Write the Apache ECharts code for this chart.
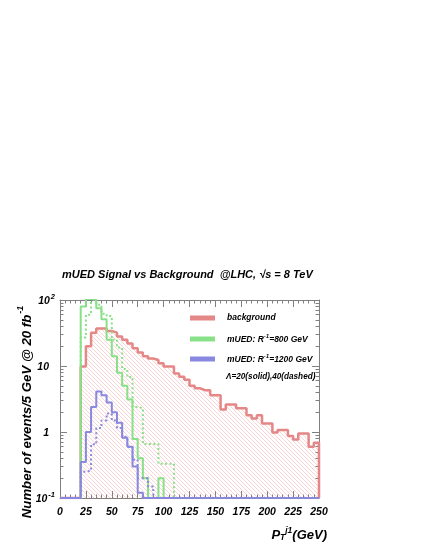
<!DOCTYPE html>
<html>
<head>
<meta charset="utf-8">
<title>mUED Signal vs Background</title>
<script src="https://cdn.jsdelivr.net/npm/echarts@6/dist/echarts.min.js"></script>
<style>
html, body { margin: 0; padding: 0; background: #fff; }
#chart { width: 432px; height: 559px; }
</style>
</head>
<body>
<div id="chart"></div>
<script>
// histogram bins, 5 GeV wide, first listed bin starts at 20 GeV (0 = empty bin)
var binStart = 20;
var binWidth = 5;
var xTicks = [0, 25, 50, 75, 100, 125, 150, 175, 200, 225, 250];
var yTicks = [0.1, 1, 10, 100];
var yMinorTicks = [0.2, 0.3, 0.4, 0.5, 0.6, 0.7, 0.8, 0.9, 2, 3, 4, 5, 6, 7, 8, 9, 20, 30, 40, 50, 60, 70, 80, 90];

var background = [9.8, 20, 32, 37, 37, 34, 32, 28, 25, 22,
                  18.5, 16, 14, 13, 12.3, 11, 9.8, 9.8, 7.7, 6.9,
                  6.2, 5.0, 4.6, 4.3, 4.3, 3.6, 3.6, 2.2, 2.6, 2.6,
                  2.3, 2.3, 1.8, 1.6, 1.8, 1.35, 1.35, 0.98, 1.07, 1.07,
                  0.87, 0.77, 0.95, 0.95, 0.6, 0.69];
var mued800Solid = [80, 104, 100, 75, 51, 25, 14, 7.9, 5, 3.1, 0.78, 0.4, 0.2, 0, 0, 0.2];
var mued800Dashed = [27, 60, 104, 85, 62, 57, 25, 19, 9, 6.8, 2.4, 2.3, 0.66, 0.66, 0.66, 0.33, 0.33, 0.33];
var mued1200Solid = [0.35, 1.0, 2.4, 4.1, 3.6, 2.8, 2.0, 1.38, 0.82, 0.6, 0.3, 0.12];
var mued1200Dashed = [0.25, 0.26, 0.65, 1.15, 1.5, 1.9, 1.5, 1.15, 0.85, 0.6, 0.38, 0.2, 0.2, 0.15];

var red = '#e58787';
var green = '#88e088';
var blue = '#8888e0';
var font = 'Liberation Sans';
var xMin = 0, xMax = 250, yMin = 0.1, yMax = 100;

// ROOT-like outline: empty bins lie on the bottom of the frame
function histLine(vals) {
    var pts = [[xMin, yMin], [binStart, yMin]];
    vals.forEach(function (v, i) {
        pts.push([binStart + i * binWidth, v > 0 ? v : yMin]);
    });
    var end = binStart + vals.length * binWidth;
    pts.push([end, yMin]);
    if (end < xMax) pts.push([xMax, yMin]);
    return pts;
}

function hatch() {
    var c = document.createElement('canvas');
    c.width = 4; c.height = 4;
    var ctx = c.getContext('2d');
    ctx.fillStyle = 'rgba(232,120,120,0.32)';
    for (var i = 0; i < 4; i++) ctx.fillRect(i, i, 1, 1);
    return c;
}

function lineSeries(name, vals, color, dashed, z) {
    return {
        name: name,
        type: 'line',
        step: 'end',
        symbol: 'none',
        data: histLine(vals),
        lineStyle: { color: color, width: 2, type: dashed ? [2, 2.5] : 'solid' },
        z: z
    };
}

function txt(size, extra) {
    var o = { fontFamily: font, fontWeight: 'bold', fontStyle: 'italic', color: '#000', fontSize: size };
    for (var k in extra) o[k] = extra[k];
    return o;
}

var axisGray = '#808080';

function xAxisDef(pos, labels) {
    return {
        type: 'value', min: xMin, max: xMax, interval: 25, position: pos,
        axisLine: { show: true, onZero: false, lineStyle: { color: axisGray, width: 1 } },
        axisTick: { show: true, inside: true, length: 7, lineStyle: { color: axisGray } },
        minorTick: { show: true, splitNumber: 5, length: 3.5, lineStyle: { color: axisGray } },
        splitLine: { show: false },
        minorSplitLine: { show: false },
        axisLabel: labels ? {
            margin: 9, fontSize: 10.5, fontFamily: font, fontWeight: 'bold', fontStyle: 'italic', color: '#000'
        } : { show: false }
    };
}

function yAxisDef(pos, minor, labels) {
    return {
        type: 'log', logBase: 10, min: yMin, max: yMax, position: pos,
        axisLine: { show: !minor, onZero: false, lineStyle: { color: axisGray, width: 1 } },
        axisTick: minor ?
            { show: true, inside: true, length: 3.5, customValues: yMinorTicks, lineStyle: { color: axisGray } } :
            { show: true, inside: true, length: 7, customValues: yTicks, lineStyle: { color: axisGray } },
        splitLine: { show: false },
        axisLabel: labels ? {
            margin: 5,
            customValues: yTicks,
            formatter: function (v) {
                var e = Math.round(Math.log(v) / Math.LN10);
                if (e === 0) return '{n|1}{p|}';
                if (e === 1) return '{n|10}{p|}';
                return '{n|10}{s|' + e + '}';
            },
            rich: {
                n: txt(10.5, { verticalAlign: 'bottom', lineHeight: 14 }),
                s: txt(7.5, { verticalAlign: 'bottom', lineHeight: 14, padding: [0, 0, 6, 1] }),
                p: { width: 6 }
            }
        } : { show: false }
    };
}

var myChart = echarts.init(document.getElementById('chart'), null, { renderer: 'canvas' });

var supRich = {
    t: txt(8.5, { verticalAlign: 'bottom', lineHeight: 12 }),
    s: txt(6, { verticalAlign: 'bottom', lineHeight: 12, padding: [0, 0, 5, 0] })
};

var option = {
    animation: false,
    backgroundColor: '#fff',
    title: {
        text: 'mUED Signal vs Background  @LHC, \u221As = 8 TeV',
        left: 62, top: 269, padding: 0,
        textStyle: txt(11, {})
    },
    grid: { left: 60, top: 300, width: 259, height: 198, containLabel: false },
    xAxis: [xAxisDef('bottom', true), xAxisDef('top', false)],
    yAxis: [yAxisDef('left', false, true), yAxisDef('left', true, false),
            yAxisDef('right', false, false), yAxisDef('right', true, false)],
    series: [
        {
            name: 'background',
            type: 'line',
            step: 'end',
            symbol: 'none',
            data: histLine(background),
            lineStyle: { color: red, width: 2.5 },
            areaStyle: { color: { image: hatch(), repeat: 'repeat' }, origin: 'start', opacity: 1 },
            z: 1
        },
        lineSeries('mUED: R-1=800 GeV', mued800Solid, green, false, 3),
        lineSeries('mUED: R-1=800 GeV (40)', mued800Dashed, green, true, 3),
        lineSeries('mUED: R-1=1200 GeV', mued1200Solid, blue, false, 4),
        lineSeries('mUED: R-1=1200 GeV (40)', mued1200Dashed, blue, true, 4)
    ],
    graphic: [
        // legend
        { type: 'rect', left: 190, top: 315.5, shape: { width: 25, height: 5 }, style: { fill: red } },
        { type: 'rect', left: 190, top: 336.5, shape: { width: 25, height: 5 }, style: { fill: green } },
        { type: 'rect', left: 190, top: 356.5, shape: { width: 25, height: 5 }, style: { fill: blue } },
        { type: 'text', x: 227, y: 316, style: { text: '{t|background}', verticalAlign: 'middle', rich: supRich } },
        { type: 'text', x: 227, y: 338, style: { text: '{t|mUED: R}{s|-1}{t|=800 GeV}', verticalAlign: 'middle', rich: supRich } },
        { type: 'text', x: 227, y: 358, style: { text: '{t|mUED: R}{s|-1}{t|=1200 GeV}', verticalAlign: 'middle', rich: supRich } },
        { type: 'text', x: 226, y: 377, style: { text: '\u039B=20(solid),40(dashed)', verticalAlign: 'middle', font: 'italic bold 8.2px "Liberation Sans"', fill: '#000' } },
        // y axis title
        { type: 'text', x: 25, y: 412, rotation: Math.PI / 2, style: {
            text: '{t|Number of events/5 GeV @ 20 fb}{s|-1}', align: 'center', verticalAlign: 'middle',
            rich: { t: txt(13.2, { verticalAlign: 'bottom', lineHeight: 17 }), s: txt(9, { verticalAlign: 'bottom', lineHeight: 17, padding: [0, 0, 8, 1] }) }
        } },
        // x axis title
        { type: 'text', x: 327, y: 533, style: {
            text: '{t|P}{d|T}{s|j1}{t|(GeV)}', align: 'right', verticalAlign: 'middle',
            rich: {
                t: txt(13, { verticalAlign: 'bottom', lineHeight: 18 }),
                d: txt(8.5, { verticalAlign: 'bottom', lineHeight: 18 }),
                s: txt(8.5, { verticalAlign: 'bottom', lineHeight: 18, padding: [0, 0, 7, 0] })
            }
        } }
    ]
};

myChart.setOption(option);
</script>
</body>
</html>
